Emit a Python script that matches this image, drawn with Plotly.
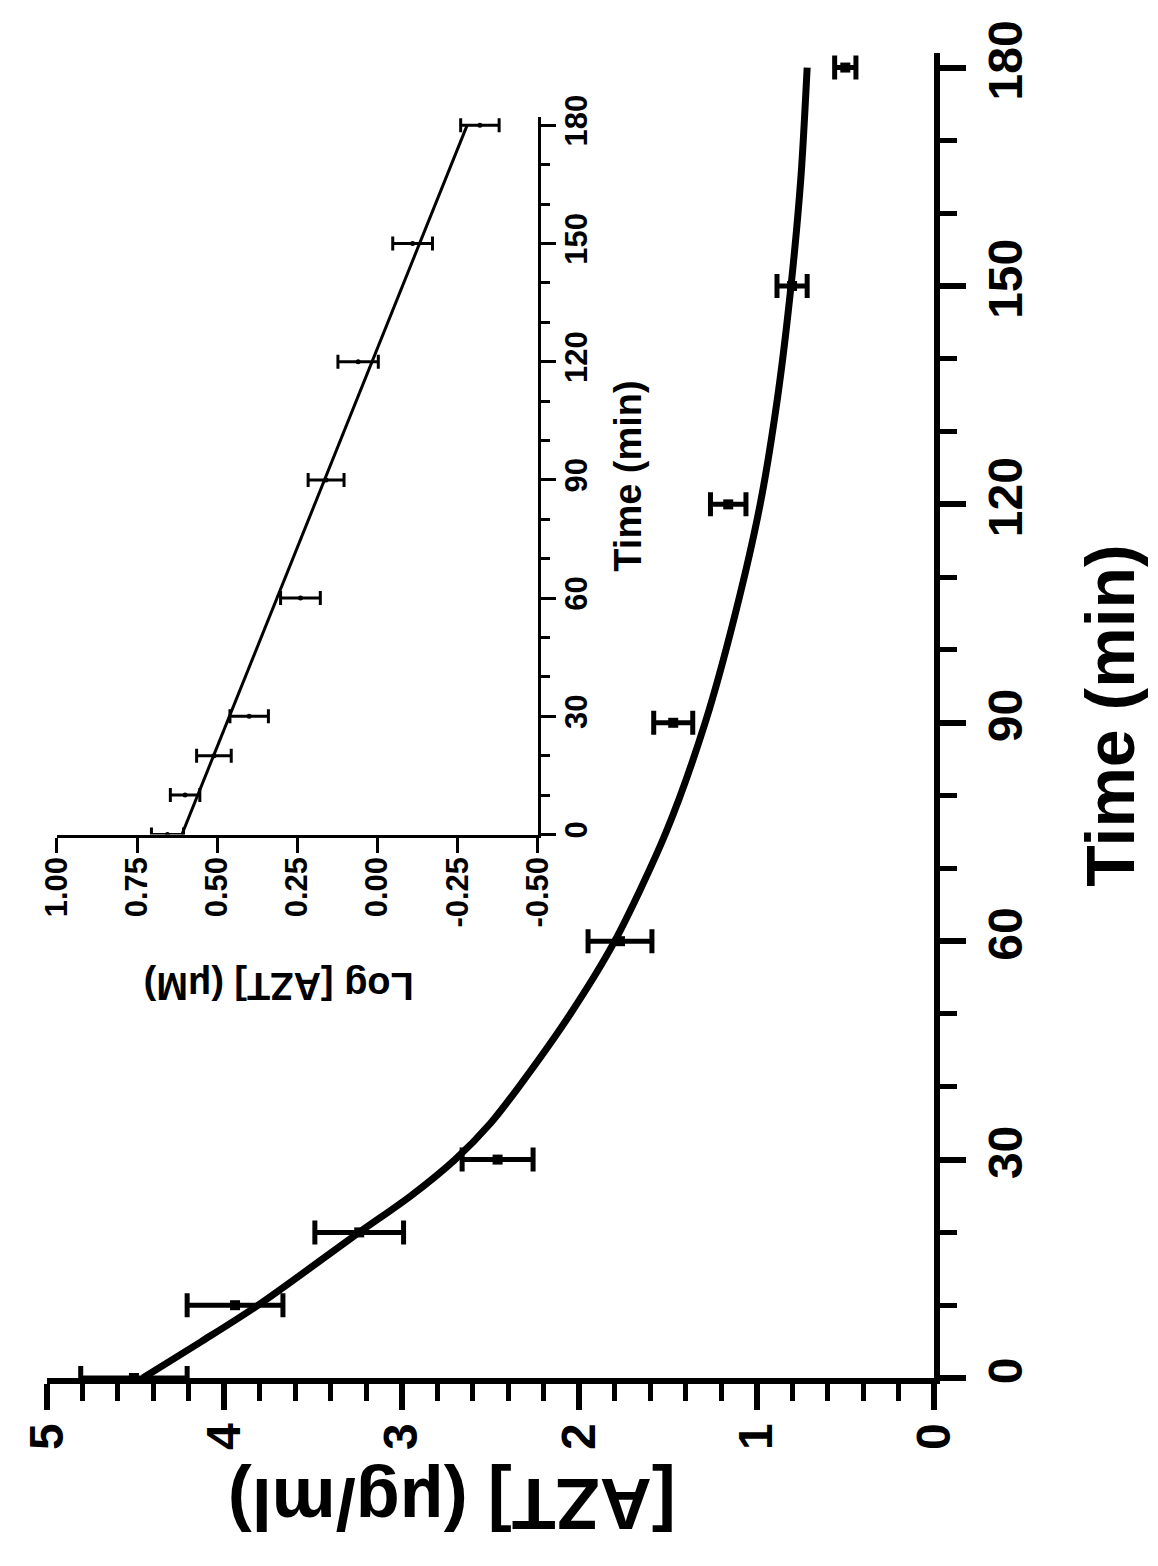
import plotly.graph_objects as go

# ---------------- data ----------------
# main panel: AZT concentration (ug/ml) vs time (min)
time_pts = [0, 10, 20, 30, 60, 90, 120, 150, 180]
azt_conc = [4.51, 3.94, 3.24, 2.46, 1.77, 1.47, 1.16, 0.80, 0.50]
azt_err = [0.30, 0.27, 0.25, 0.20, 0.18, 0.11, 0.10, 0.085, 0.06]

# fitted curve of the main panel
fit_time = [0, 5, 10, 20, 25, 30, 35, 40, 50, 60, 75, 90, 105, 120, 135, 150, 165, 180]
fit_conc = [4.46, 4.13, 3.81, 3.24, 2.95, 2.70, 2.50, 2.34, 2.05, 1.80, 1.51, 1.29, 1.12,
            0.98, 0.88, 0.806, 0.75, 0.715]

# inset: log [AZT] (uM) vs time (min)
log_conc = [0.655, 0.60, 0.51, 0.40, 0.24, 0.16, 0.06, -0.11, -0.32]
log_err = [0.05, 0.046, 0.054, 0.06, 0.062, 0.056, 0.063, 0.062, 0.06]
log_fit_time = [0, 90, 180]
log_fit_val = [0.61, 0.165, -0.28]

# tick labels
main_time_ticks = [0, 30, 60, 90, 120, 150, 180]
main_conc_ticks = [0, 1, 2, 3, 4, 5]
inset_log_tickvals = [1.0, 0.75, 0.5, 0.25, 0.0, -0.25, -0.5]
inset_log_ticktext = ["1.00", "0.75", "0.50", "0.25", "0.00", "-0.25", "-0.50"]

# ---------------- figure ----------------
FONT = "Liberation Sans, Arial, sans-serif"
# the page body adds an 8 px margin, so the figure is 8 px smaller than the window
OFF = 8
W, H = 1158 - OFF, 1566 - OFF
ML, MT = 39 - OFF, 42 - OFF
plot_w, plot_h = 895, 1336
MR = W - ML - plot_w
MB = H - MT - plot_h


def px_x(px):
    return (px - OFF - ML) / plot_w


def px_y(py):
    return (MT + plot_h - (py - OFF)) / plot_h


fig = go.Figure()

# main fitted curve
fig.add_trace(go.Scatter(
    x=fit_conc, y=fit_time, mode="lines",
    line=dict(color="black", width=7, shape="spline", smoothing=0.8),
    xaxis="x", yaxis="y", showlegend=False, hoverinfo="skip"))

# main data points with horizontal error bars
fig.add_trace(go.Scatter(
    x=azt_conc, y=time_pts, mode="markers",
    marker=dict(symbol="square", size=10, color="black"),
    error_x=dict(type="data", array=azt_err, color="black", thickness=5, width=12),
    xaxis="x", yaxis="y", showlegend=False))

# inset fit line
fig.add_trace(go.Scatter(
    x=log_fit_val, y=log_fit_time, mode="lines",
    line=dict(color="black", width=3),
    xaxis="x2", yaxis="y2", showlegend=False, hoverinfo="skip"))

# inset data points
fig.add_trace(go.Scatter(
    x=log_conc, y=time_pts, mode="markers",
    marker=dict(symbol="circle", size=5, color="black"),
    error_x=dict(type="data", array=log_err, color="black", thickness=3, width=7),
    xaxis="x2", yaxis="y2", showlegend=False))

axis_common = dict(showgrid=False, zeroline=False, showline=True, linecolor="black",
                   ticks="outside", tickcolor="black", mirror=False)

fig.update_layout(
    width=W, height=H,
    margin=dict(l=ML, r=MR, t=MT, b=MB, pad=0),
    paper_bgcolor="white", plot_bgcolor="white",
    font=dict(family=FONT, color="black"),
    xaxis=dict(
        **axis_common, range=[5, 0], domain=[0, 1], anchor="y", side="bottom",
        linewidth=6, tickwidth=6, ticklen=26,
        tickvals=main_conc_ticks, tickangle=-90,
        tickfont=dict(size=48, family=FONT, weight="bold"),
        ticklabelstandoff=-6,
        minor=dict(dtick=0.2, tick0=0, ticks="outside", ticklen=17, tickwidth=5, tickcolor="black"),
    ),
    yaxis=dict(
        **axis_common, range=[0, 182], domain=[0, 1], anchor="x", side="right",
        linewidth=6, tickwidth=6, ticklen=26,
        tickvals=main_time_ticks, tickangle=-90,
        tickfont=dict(size=48, family=FONT, weight="bold"),
        ticklabelstandoff=-2,
        minor=dict(dtick=10, tick0=0, ticks="outside", ticklen=17, tickwidth=5, tickcolor="black"),
        title=dict(text="Time (min)", font=dict(size=68, family=FONT, weight="bold"), standoff=58),
    ),
    xaxis2=dict(
        **axis_common, range=[1.0, -0.5], domain=[px_x(49), px_x(534)], anchor="y2", side="bottom",
        linewidth=3, tickwidth=3, ticklen=15,
        tickvals=inset_log_tickvals, ticktext=inset_log_ticktext, tickangle=-90,
        tickfont=dict(size=31, family=FONT, weight="bold"),
        ticklabelstandoff=-8,
    ),
    yaxis2=dict(
        **axis_common, range=[0, 182], domain=[px_y(830), px_y(107)], anchor="x2", side="right",
        linewidth=3, tickwidth=3, ticklen=15,
        tickvals=main_time_ticks, tickangle=-90,
        tickfont=dict(size=31, family=FONT, weight="bold"),
        ticklabelstandoff=-6,
        minor=dict(dtick=10, tick0=0, ticks="outside", ticklen=9, tickwidth=3, tickcolor="black"),
        title=dict(text="Time (min)", font=dict(size=38, family=FONT, weight="bold"), standoff=22),
    ),
    annotations=[
        dict(text="[AZT] (μg/ml)", textangle=180, xref="paper", yref="paper",
             x=px_x(447), y=px_y(1505), xanchor="center", yanchor="middle", showarrow=False,
             font=dict(size=72, family=FONT, color="black", weight="bold")),
        dict(text="Log [AZT] (μM)", textangle=180, xref="paper", yref="paper",
             x=px_x(273), y=px_y(982), xanchor="center", yanchor="middle", showarrow=False,
             font=dict(size=38, family=FONT, color="black", weight="bold")),
    ],
)

fig.write_html("out.html")
